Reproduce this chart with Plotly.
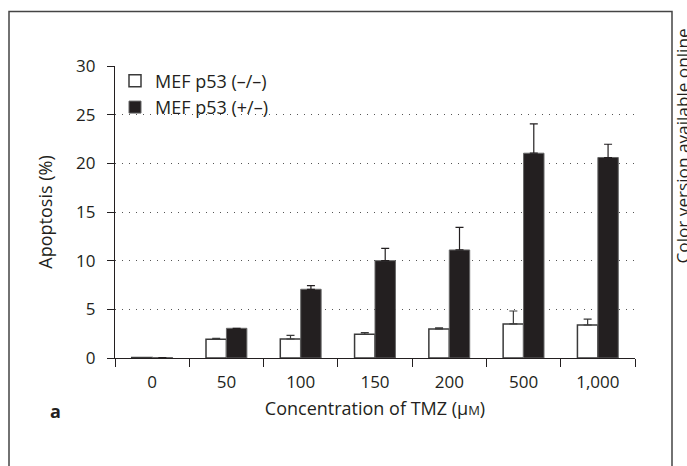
import plotly.graph_objects as go

categories = ["0", "50", "100", "150", "200", "500", "1,000"]
mef_ko = [0.05, 1.92, 1.95, 2.43, 2.98, 3.5, 3.39]
mef_ko_err = [0.0, 0.1, 0.38, 0.17, 0.12, 1.33, 0.61]
mef_het = [0.05, 3.05, 7.06, 10.0, 11.1, 21.04, 20.6]
mef_het_err = [0.0, 0.0, 0.37, 1.27, 2.33, 3.01, 1.36]

FONT = "Open Sans"
DARK = "#231f20"

fig = go.Figure()
fig.add_trace(go.Bar(
    x=categories, y=mef_ko, name="MEF p53 (–/–)",
    marker=dict(color="white", line=dict(color="#3a3a3a", width=1.5)),
    error_y=dict(type="data", array=mef_ko_err, arrayminus=[0]*7, symmetric=False,
                 color="#3a3a3a", thickness=1.2, width=4),
))
fig.add_trace(go.Bar(
    x=categories, y=mef_het, name="MEF p53 (+/–)",
    marker=dict(color=DARK, line=dict(color="#666666", width=1)),
    error_y=dict(type="data", array=mef_het_err, arrayminus=[0]*7, symmetric=False,
                 color=DARK, thickness=1.2, width=4),
))

W0, W1 = 115, 635
Y0, Y1 = 358, 66
def px(x):
    return (x - W0) / (W1 - W0)
def py(y):
    return (Y0 - y) / (Y0 - Y1)

fig.update_layout(
    width=687, height=466,
    margin=dict(l=W0, r=687 - W1, t=Y1, b=466 - Y0),
    paper_bgcolor="white", plot_bgcolor="white",
    barmode="group", bargap=0.45, bargroupgap=0,
    font=dict(family=FONT, size=17, color=DARK),
    showlegend=True,
    legend=dict(x=0.0, y=1.012, xanchor="left", yanchor="top",
                font=dict(size=18, color=DARK), bgcolor="rgba(0,0,0,0)",
                itemwidth=30, tracegroupgap=0),
    xaxis=dict(
        type="category", range=[-0.5, 6.5], tickson="boundaries",
        ticks="outside", ticklen=8, tickcolor=DARK, tickwidth=1.2,
        showline=True, linecolor=DARK, linewidth=1.2, showgrid=False,
        tickfont=dict(size=17, color=DARK), ticklabelstandoff=8,
        title=dict(text="Concentration of TMZ (μ<span style='font-size:13px'>M</span>)",
                   font=dict(size=18, color=DARK), standoff=10),
    ),
    yaxis=dict(
        range=[0, 30], tickvals=[0, 5, 10, 15, 20, 25, 30],
        ticks="outside", ticklen=7, tickcolor=DARK, tickwidth=1.2,
        showline=True, linecolor=DARK, linewidth=1.2,
        showgrid=True, gridcolor="#555555", griddash="1px,6px", gridwidth=1.3,
        zeroline=False, ticklabelstandoff=8,
        tickfont=dict(size=17, color=DARK),
        title=dict(text="Apoptosis (%)", font=dict(size=18, color=DARK), standoff=18),
    ),
    shapes=[dict(type="rect", xref="paper", yref="paper",
                 x0=px(9), x1=px(672), y0=py(600), y1=py(11.5),
                 line=dict(color="#444444", width=1.5), layer="above")],
    annotations=[
        dict(text="<b>a</b>", xref="paper", yref="paper", x=px(55), y=py(411),
             showarrow=False, font=dict(size=18, color=DARK), xanchor="center", yanchor="middle"),
        dict(text="Color version available online", xref="paper", yref="paper",
             x=px(682), y=py(266), textangle=-90, showarrow=False,
             font=dict(size=17.2, color=DARK), xanchor="center", yanchor="bottom"),
    ],
)

fig.write_html("out.html")
